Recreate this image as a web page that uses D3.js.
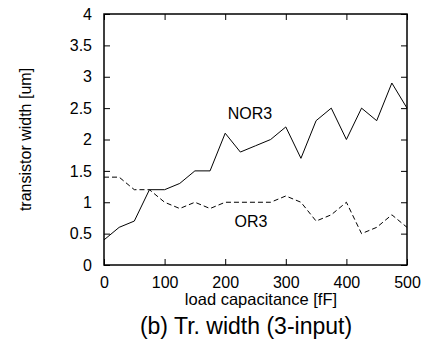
<!DOCTYPE html>
<html>
<head>
<meta charset="utf-8">
<script src="https://cdn.jsdelivr.net/npm/d3@7"></script>
<style>
  body { margin: 0; background: #fff; }
  text { font-family: "Liberation Sans", Arial, sans-serif; fill: #000; }
</style>
</head>
<body>
<div id="chart"></div>
<script>
// load capacitance [fF]
const capacitance = [0, 25, 50, 75, 100, 125, 150, 175, 200, 225, 250,
                     275, 300, 325, 350, 375, 400, 425, 450, 475, 500];
// transistor width [um]
const nor3 = [0.4, 0.6, 0.7, 1.2, 1.2, 1.3, 1.5, 1.5, 2.1, 1.8, 1.9,
              2.0, 2.2, 1.7, 2.3, 2.5, 2.0, 2.5, 2.3, 2.9, 2.5];
const or3 = [1.4, 1.4, 1.2, 1.2, 1.0, 0.9, 1.0, 0.9, 1.0, 1.0, 1.0,
             1.0, 1.1, 1.0, 0.7, 0.8, 1.0, 0.5, 0.6, 0.8, 0.6];
const xTicks = [0, 100, 200, 300, 400, 500];
const yTicks = [0, 0.5, 1, 1.5, 2, 2.5, 3, 3.5, 4];

const W = 428, H = 340;
const plotLeft = 104, plotRight = 407, plotTop = 14, plotBottom = 265;

const svg = d3.select('#chart').append('svg')
    .attr('width', W)
    .attr('height', H);

const x = d3.scaleLinear().domain([0, 500]).range([plotLeft, plotRight]);
const y = d3.scaleLinear().domain([0, 4]).range([plotBottom, plotTop]);

// inward ticks on all four sides
const tickLen = 6;
svg.append('g')
    .attr('transform', `translate(0,${plotBottom})`)
    .call(d3.axisBottom(x).tickValues(xTicks).tickSizeInner(-tickLen).tickSizeOuter(0).tickPadding(12))
    .call(g => g.select('.domain').remove());
svg.append('g')
    .attr('transform', `translate(0,${plotTop})`)
    .call(d3.axisTop(x).tickValues(xTicks).tickSizeInner(-tickLen).tickSizeOuter(0).tickFormat(''))
    .call(g => g.select('.domain').remove());
svg.append('g')
    .attr('transform', `translate(${plotLeft},0)`)
    .call(d3.axisLeft(y).tickValues(yTicks).tickSizeInner(-tickLen).tickSizeOuter(0).tickPadding(12).tickFormat(d3.format('')))
    .call(g => g.select('.domain').remove());
svg.append('g')
    .attr('transform', `translate(${plotRight},0)`)
    .call(d3.axisRight(y).tickValues(yTicks).tickSizeInner(-tickLen).tickSizeOuter(0).tickFormat(''))
    .call(g => g.select('.domain').remove());

svg.selectAll('.tick line').attr('stroke', '#000');
svg.selectAll('.tick text')
    .style('font-family', '"Liberation Sans", Arial, sans-serif')
    .style('font-size', '16px');

const line = d3.line()
    .x((d, i) => x(capacitance[i]))
    .y(d => y(d));

svg.append('path')
    .datum(nor3)
    .attr('d', line)
    .attr('fill', 'none')
    .attr('stroke', '#000')
    .attr('stroke-width', 1);

svg.append('path')
    .datum(or3)
    .attr('d', line)
    .attr('fill', 'none')
    .attr('stroke', '#000')
    .attr('stroke-width', 1)
    .attr('stroke-dasharray', '5,3');

// frame
svg.append('rect')
    .attr('x', plotLeft)
    .attr('y', plotTop)
    .attr('width', plotRight - plotLeft)
    .attr('height', plotBottom - plotTop)
    .attr('fill', 'none')
    .attr('stroke', '#000')
    .attr('stroke-width', 1.5);

// series labels
svg.append('text')
    .attr('x', 250).attr('y', 119)
    .attr('text-anchor', 'middle')
    .style('font-size', '16px')
    .text('NOR3');
svg.append('text')
    .attr('x', 251).attr('y', 227)
    .attr('text-anchor', 'middle')
    .style('font-size', '16px')
    .text('OR3');

// axis labels
svg.append('text')
    .attr('x', 261).attr('y', 305)
    .attr('text-anchor', 'middle')
    .style('font-size', '16.5px')
    .text('load capacitance [fF]');
svg.append('text')
    .attr('transform', `translate(31,${(plotTop + plotBottom) / 2}) rotate(-90)`)
    .attr('text-anchor', 'middle')
    .style('font-size', '16px')
    .text('transistor width [um]');

// caption
svg.append('text')
    .attr('x', 246).attr('y', 334)
    .attr('text-anchor', 'middle')
    .style('font-size', '23px')
    .text('(b) Tr. width (3-input)');
</script>
</body>
</html>
